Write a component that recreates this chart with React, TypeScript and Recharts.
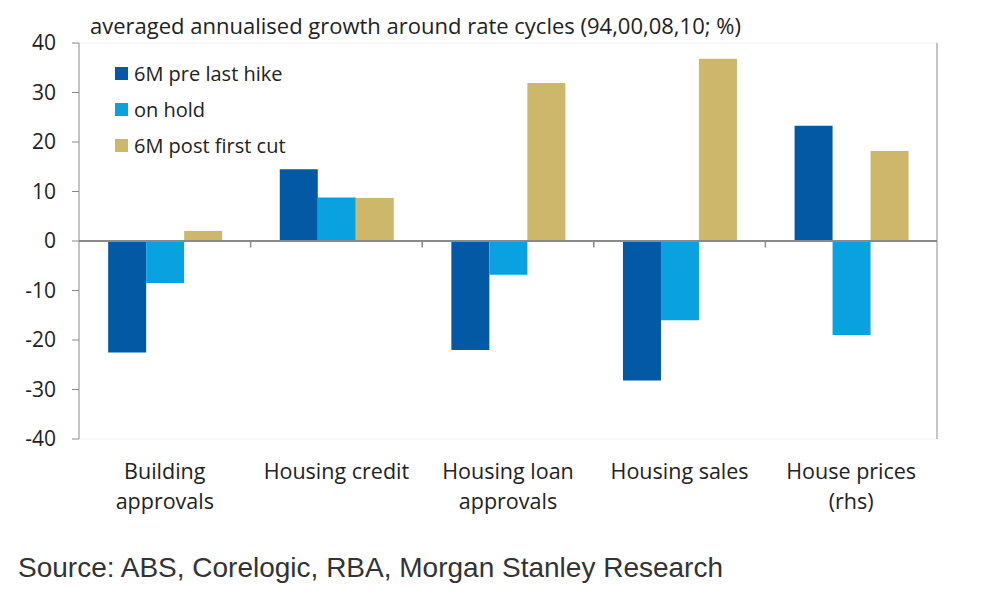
import {
  BarChart,
  Bar,
  XAxis,
  YAxis,
  CartesianGrid,
  ReferenceLine,
} from 'recharts';

// categories (x axis), label lines split by "\n"
const categories = [
  'Building\napprovals',
  'Housing credit',
  'Housing loan\napprovals',
  'Housing sales',
  'House prices\n(rhs)',
];

const onRhs = [false, false, false, false, true];

// series values (lhs %, last one on rhs %)
const preLastHike = [-22.5, 14.5, -22, -28.2, 2.33];
const onHold = [-8.5, 8.8, -6.8, -16, -1.9];
const postFirstCut = [2, 8.7, 31.9, 36.8, 1.82];

const leftTicks = [-40, -30, -20, -10, 0, 10, 20, 30, 40];
const rightTicks = [-4, -3, -2, -1, 0, 1, 2, 3, 4];

const seriesNames = ['6M pre last hike', 'on hold', '6M post first cut'];
const seriesColors = ['#0359a3', '#0aa1e1', '#cdb76a'];

const rhsScale = leftTicks[leftTicks.length - 1] / rightTicks[rightTicks.length - 1];

const data = categories.map((name, i) => {
  const k = onRhs[i] ? rhsScale : 1;
  return {
    name,
    pre: preLastHike[i] * k,
    hold: onHold[i] * k,
    post: postFirstCut[i] * k,
  };
});

const FONT = '"Open Sans", Lato, sans-serif';
const AXIS = '#8a8a8a';

function CategoryTick({ x, y, payload }: any) {
  const lines = String(payload.value).split('\n');
  return (
    <text x={x} y={y} textAnchor="middle" fontFamily={FONT} fontSize={21.5} fill="#222">
      {lines.map((l, i) => (
        <tspan key={i} x={x} dy={i === 0 ? 32 : 30}>
          {l}
        </tspan>
      ))}
    </text>
  );
}

function LegendBox() {
  return (
    <div
      style={{
        position: 'absolute',
        left: 115,
        top: 55,
        fontFamily: FONT,
        fontSize: 20,
        color: '#222',
      }}
    >
      {seriesNames.map((n, i) => (
        <div key={n} style={{ display: 'flex', alignItems: 'center', height: 36 }}>
          <span
            style={{
              display: 'inline-block',
              width: 13,
              height: 13,
              background: seriesColors[i],
              marginRight: 6,
            }}
          />
          {n}
        </div>
      ))}
    </div>
  );
}

export default function App() {
  const keys = ['pre', 'hold', 'post'];
  return (
    <div
      style={{
        position: 'absolute',
        left: 0,
        top: 0,
        width: 1000,
        height: 601,
        background: '#fff',
        overflow: 'hidden',
      }}
    >
      <div
        style={{
          position: 'absolute',
          left: 90,
          top: 10,
          fontFamily: FONT,
          fontSize: 22,
          color: '#222',
          whiteSpace: 'nowrap',
        }}
      >
        averaged annualised growth around rate cycles (94,00,08,10; %)
      </div>
      <BarChart
        width={1000}
        height={530}
        data={data}
        margin={{ top: 43, right: 13, left: 19, bottom: 21 }}
        barCategoryGap="17%"
        barGap={0}
      >
        <CartesianGrid vertical={false} stroke="#f0f0f0" />
        <XAxis
          dataKey="name"
          axisLine={false}
          tickLine={false}
          interval={0}
          height={70}
          tick={<CategoryTick />}
        />
        <YAxis
          yAxisId="left"
          domain={[-40, 40]}
          ticks={leftTicks}
          width={60}
          stroke={AXIS}
          tickSize={7}
          tickMargin={16}
          tick={{ fill: '#222', fontSize: 21, fontFamily: FONT }}
        />
        <YAxis
          yAxisId="right"
          orientation="right"
          domain={[-4, 4]}
          ticks={rightTicks}
          width={50}
          stroke={AXIS}
          tickSize={7}
          tickMargin={16}
          tick={{ fill: '#222', fontSize: 21, fontFamily: FONT, textAnchor: 'start' }}
        />
        {keys.map((k, i) => (
          <Bar
            key={k}
            yAxisId="left"
            dataKey={k}
            name={seriesNames[i]}
            fill={seriesColors[i]}
            isAnimationActive={false}
          />
        ))}
        <ReferenceLine yAxisId="left" y={0} stroke={AXIS} strokeWidth={2} />
        {categories.slice(1).map((c) => (
          <ReferenceLine
            key={c}
            yAxisId="left"
            position="start"
            segment={[
              { x: c, y: 0 },
              { x: c, y: -1.3 },
            ]}
            stroke={AXIS}
            strokeWidth={1.5}
          />
        ))}
      </BarChart>
      <LegendBox />
      <div
        style={{
          position: 'absolute',
          left: 18,
          top: 552,
          fontFamily: '"Liberation Sans", Arial, sans-serif',
          fontSize: 28,
          color: '#333',
          whiteSpace: 'nowrap',
        }}
      >
        Source: ABS, Corelogic, RBA, Morgan Stanley Research
      </div>
    </div>
  );
}
